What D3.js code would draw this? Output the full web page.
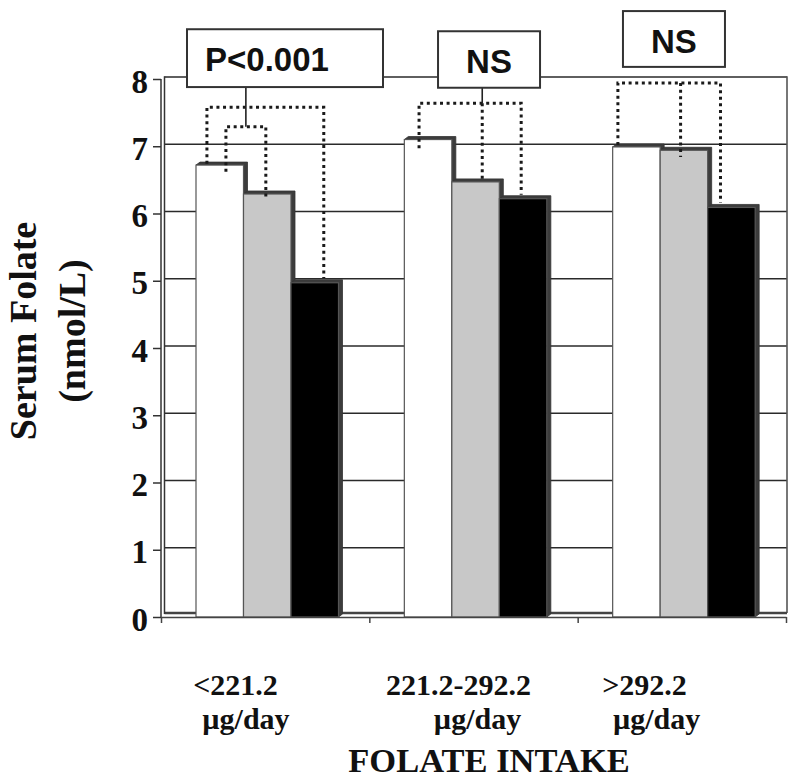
<!DOCTYPE html>
<html><head><meta charset="utf-8">
<script src="https://cdn.jsdelivr.net/npm/d3@7"></script>
<style>body{margin:0;background:#fff}</style>
</head><body><svg id="c" width="800" height="783"></svg>
<script>
// ---------------- data ----------------
const categories = ["<221.2 µg/day", "221.2-292.2 µg/day", ">292.2 µg/day"];
const categoryLine1 = ["<221.2", "221.2-292.2", ">292.2"];
const categoryLine2 = ["µg/day", "µg/day", "µg/day"];
const seriesNames = ["Series A", "Series B", "Series C"];
const seriesA = [6.72, 7.10, 6.99];
const seriesB = [6.29, 6.47, 6.94];
const seriesC = [4.97, 6.22, 6.09];
const seriesColors = ["#ffffff", "#c8c8c8", "#000000"];
const yTicks = [0, 1, 2, 3, 4, 5, 6, 7, 8];
const yTitle = ["Serum Folate", "(nmol/L)"];
const xTitle = "FOLATE INTAKE";
const pLabels = ["P<0.001", "NS", "NS"];
// dotted brackets: group, top value, legs [series, position across bar, end value]
const brackets = [
  {g: 0, top: 7.58, legs: [[0, 0.23, 6.74], [2, 0.69, 5.04]]},
  {g: 0, top: 7.29, legs: [[0, 0.63, 6.62], [1, 0.47, 6.20]]},
  {g: 1, top: 7.64, legs: [[0, 0.31, 6.97], [1, 0.64, 6.51], [2, 0.46, 6.28]]},
  {g: 2, top: 7.94, legs: [[0, 0.11, 7.02], [1, 0.43, 6.84], [2, 0.27, 6.16]]}
];

// ---------------- layout ----------------
const svg = d3.select("#c");
const W = 800, H = 783;
const plotL = 161, plotR = 786, plotT = 79, plotB = 617;
const groupPadL = 35, groupInner = 142.5;
const depthX = 4, depthY = 3;
const serif = "'Liberation Serif','Times New Roman',serif";
const sans = "'Liberation Sans',Arial,sans-serif";

const x0 = d3.scaleBand().domain(categories).range([plotL, plotR]).padding(0);
const x1 = d3.scaleBand().domain(seriesNames).range([0, groupInner]).padding(0);
const xEdge = d3.scaleLinear().domain([0, categories.length]).range([plotL, plotR]);
const y = d3.scaleLinear().domain([0, 8]).range([plotB, plotT]);

const seriesValues = [seriesA, seriesB, seriesC];
const bars = [];
categories.forEach((c, gi) => {
  seriesNames.forEach((s, si) => {
    bars.push({c, gi, s, si, v: seriesValues[si][gi]});
  });
});
const barX = (gi, si) => x0(categories[gi]) + groupPadL + x1(seriesNames[si]);
const bw = x1.bandwidth();

// gridlines (back wall, slightly offset)
const gridG = svg.append("g");
yTicks.filter(v => v > 0).forEach(v => {
  gridG.append("line")
    .attr("x1", plotL + 3.5).attr("x2", plotR + 1)
    .attr("y1", y(v) - 2).attr("y2", y(v) - 2)
    .attr("stroke", "#2a2a2a").attr("stroke-width", 1.6);
});
// right wall edge
svg.append("line").attr("x1", plotR + 1).attr("x2", plotR + 1)
  .attr("y1", y(8) - 2.8).attr("y2", plotB - 4)
  .attr("stroke", "#555").attr("stroke-width", 1.6);
// floor
svg.append("line").attr("x1", plotL + 3.5).attr("x2", plotR + 1)
  .attr("y1", plotB - 4).attr("y2", plotB - 4)
  .attr("stroke", "#444").attr("stroke-width", 2.5);
// left wall double line
svg.append("line").attr("x1", plotL).attr("x2", plotL)
  .attr("y1", y(8)).attr("y2", plotB).attr("stroke", "#333").attr("stroke-width", 1.5);
svg.append("line").attr("x1", plotL + 3.5).attr("x2", plotL + 3.5)
  .attr("y1", y(8) - 2.8).attr("y2", plotB - 3).attr("stroke", "#333").attr("stroke-width", 1.5);

// bars with 3D depth
const barG = svg.append("g");
bars.forEach(b => {
  const bx = barX(b.gi, b.si), by = y(b.v), bb = y(0);
  barG.append("polygon")
    .attr("points", [[bx, by], [bx + depthX, by - depthY], [bx + bw + depthX, by - depthY],
      [bx + bw + depthX, bb - depthY], [bx + bw, bb], [bx + bw, by]].map(p => p.join(",")).join(" "))
    .attr("fill", "#3c3c3c").attr("stroke", "#333").attr("stroke-width", 0.8);
});
bars.forEach(b => {
  const bx = barX(b.gi, b.si), by = y(b.v), bb = y(0);
  barG.append("rect")
    .attr("x", bx).attr("y", by).attr("width", bw).attr("height", bb - by)
    .attr("fill", seriesColors[b.si]).attr("stroke", "#555").attr("stroke-width", 1.2);
});

// x axis line + ticks
const xAxis = d3.axisBottom(xEdge).tickValues(d3.range(categories.length + 1)).tickFormat("").tickSize(6).tickSizeOuter(0);
const xg = svg.append("g").attr("transform", `translate(0,${plotB})`).call(xAxis);
xg.select(".domain").attr("stroke", "#444").attr("stroke-width", 1.5);
xg.selectAll(".tick line").attr("stroke", "#444").attr("stroke-width", 1.5);

// y axis ticks + labels
const yAxis = d3.axisLeft(y).tickValues(yTicks).tickSize(8).tickPadding(5).tickFormat(d3.format("d"));
const yg = svg.append("g").attr("transform", `translate(${plotL},0)`).call(yAxis);
yg.select(".domain").remove();
yg.selectAll(".tick line").attr("stroke", "#333").attr("stroke-width", 1.5);
yg.selectAll(".tick text").attr("font-family", serif).attr("font-weight", "bold")
  .attr("font-size", 33).attr("fill", "#111").attr("dy", "0.4em");

// y title
const yt = svg.append("text").attr("transform", "translate(0,331) rotate(-90)")
  .attr("font-family", serif).attr("font-weight", "bold").attr("font-size", 38)
  .attr("fill", "#111").attr("text-anchor", "middle");
yt.append("tspan").attr("x", 0).attr("y", 36).text(yTitle[0]);
yt.append("tspan").attr("x", 0).attr("y", 85).text(yTitle[1]);

// category labels
const line1Dx = [-29.7, -15, -37.3];
const line2Dx = [-19.2, 4, -25.3];
categories.forEach((c, i) => {
  const cx = x0(c) + x0.bandwidth() / 2;
  svg.append("text").attr("x", cx + line1Dx[i]).attr("y", 695)
    .attr("text-anchor", "middle").attr("font-family", serif).attr("font-weight", "bold")
    .attr("font-size", 30).attr("fill", "#111").text(categoryLine1[i]);
  svg.append("text").attr("x", cx + line2Dx[i]).attr("y", 729)
    .attr("text-anchor", "middle").attr("font-family", serif).attr("font-weight", "bold")
    .attr("font-size", 30).attr("fill", "#111").text(categoryLine2[i]);
});
svg.append("text").attr("x", 489).attr("y", 772).attr("text-anchor", "middle")
  .attr("font-family", serif).attr("font-weight", "bold").attr("font-size", 34.5)
  .attr("fill", "#111").text(xTitle);

// dotted brackets
const annG = svg.append("g");
const legX = (g, l) => barX(g, l[0]) + l[1] * bw;
brackets.forEach(br => {
  const xs = br.legs.map(l => legX(br.g, l));
  const first = br.legs[0], last = br.legs[br.legs.length - 1];
  const path = d3.path();
  path.moveTo(xs[0], y(first[2]));
  path.lineTo(xs[0], y(br.top));
  path.lineTo(xs[xs.length - 1], y(br.top));
  path.lineTo(xs[xs.length - 1], y(last[2]));
  for (let k = 1; k < br.legs.length - 1; k++) {
    path.moveTo(xs[k], y(br.top));
    path.lineTo(xs[k], y(br.legs[k][2]));
  }
  annG.append("path").attr("d", path.toString()).attr("fill", "none")
    .attr("stroke", "#1a1a1a").attr("stroke-width", 3).attr("stroke-dasharray", "3,3.6");
});

// p-value boxes: group, centre offset in band, width, top/bottom values
const boxes = [
  {g: 0, cxOff: 124, w: 196, top: 8.74, bot: 7.88, anchor: "start", pad: 18, conn: {br: 1, mid: true}},
  {g: 1, cxOff: 119.7, w: 102, top: 8.71, bot: 7.87, anchor: "middle", conn: {br: 2, leg: 1}},
  {g: 2, cxOff: 96.3, w: 102, top: 9.01, bot: 8.18, anchor: "middle", conn: null}
];
boxes.forEach((b, i) => {
  const cx = x0(categories[b.g]) + b.cxOff;
  const left = cx - b.w / 2;
  if (b.conn) {
    const br = brackets[b.conn.br];
    const xs = br.legs.map(l => legX(br.g, l));
    const lx = b.conn.mid ? (xs[0] + xs[xs.length - 1]) / 2 : xs[b.conn.leg];
    annG.append("line").attr("x1", lx).attr("x2", lx)
      .attr("y1", y(b.bot)).attr("y2", y(br.top))
      .attr("stroke", "#222").attr("stroke-width", 1.6);
  }
  annG.append("rect").attr("x", left).attr("y", y(b.top)).attr("width", b.w)
    .attr("height", y(b.bot) - y(b.top)).attr("fill", "#fff")
    .attr("stroke", "#333").attr("stroke-width", 2);
  annG.append("text")
    .attr("x", b.anchor === "start" ? left + b.pad : cx)
    .attr("y", y(b.top) + 42).attr("text-anchor", b.anchor)
    .attr("font-family", sans).attr("font-weight", "bold").attr("font-size", 33)
    .attr("fill", "#111").text(pLabels[i]);
});
</script>
</body></html>
